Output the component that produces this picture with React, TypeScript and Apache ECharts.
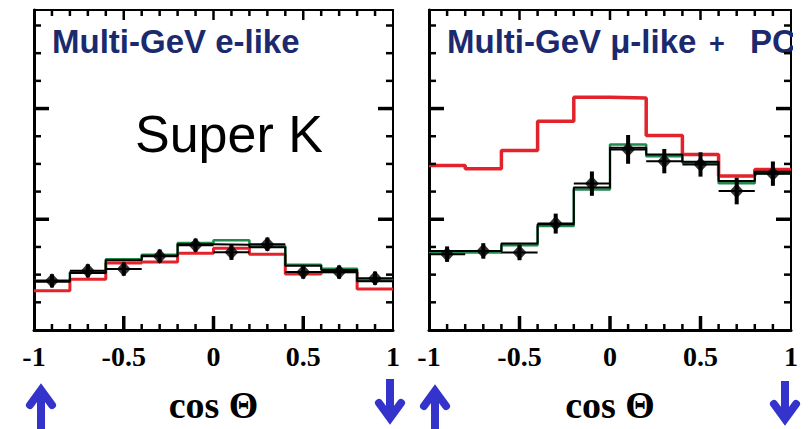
import React, { useEffect, useRef } from "react";
import * as echarts from "echarts";

// Histogram bin edges (cos Θ)
const binEdges = [-1, -0.8, -0.6, -0.4, -0.2, 0, 0.2, 0.4, 0.6, 0.8, 1];
const xTickLabels = ["-1", "-0.5", "0", "0.5", "1"];
const xMajorTicks = [-0.5, 0, 0.5];
const xMinorTicks = [-0.9, -0.8, -0.7, -0.6, -0.4, -0.3, -0.2, -0.1, 0.1, 0.2, 0.3, 0.4, 0.6, 0.7, 0.8, 0.9];
const yMajorTicks = [100, 200];
const yMinorTicks = [25, 50, 75, 125, 150, 175, 225, 250, 275];

// Multi-GeV e-like
const eData = [44.4, 53.4, 55, 66.7, 76.6, 70.3, 77.5, 52.3, 52.3, 46.8];
const eErr = [6, 6, 6, 6, 6, 7, 6, 6, 6, 6];
const eBlack = [43.5, 51.4, 63, 67, 77.5, 77, 74.8, 58, 54.3, 44];
const eGreen = [44.5, 52.4, 64, 68, 78.5, 81, 75.8, 59, 55.3, 45];
const eRed = [35.4, 45.9, 60.4, 61.3, 69.4, 73.9, 68.5, 50.5, 52.3, 37];

// Multi-GeV mu-like + PC
const muData = [68.5, 71.4, 70, 96.1, 132.2, 163.1, 152.5, 149.5, 125.5, 141.2];
const muErr = [7, 7, 7, 9, 11, 13, 11, 11, 12, 11];
const muBlack = [71.4, 71.4, 78.1, 95.5, 128.6, 164.6, 158.6, 152, 134.5, 143];
const muGreen = [70, 70, 76.5, 94, 127, 167.6, 157, 151, 132.5, 141.5];
const muRed = [148.6, 145.7, 162.2, 188.6, 210.2, 209.6, 175.7, 158.6, 139, 145];

const Y_MAX = 289;

const binCenters = binEdges.slice(0, -1).map((e, i) => (e + binEdges[i + 1]) / 2);
const halfWidths = binEdges.slice(0, -1).map((e, i) => (binEdges[i + 1] - e) / 2);

function stepData(vals: number[]) {
  return binEdges.map((e, i) => [e, vals[Math.min(i, vals.length - 1)]]);
}

const BLUE = "#3434cc";
const NAVY = "#1b2a6e";

function xAxes(gridIndex: number) {
  const common = {
    type: "value",
    gridIndex,
    min: -1,
    max: 1,
    interval: 0.5,
    splitLine: { show: false },
    axisTick: { show: false },
  };
  return [
    {
      ...common,
      position: "bottom",
      axisLine: { show: true, onZero: false, lineStyle: { color: "#000", width: 3 } },
      axisLabel: {
        show: true,
        margin: 12,
        color: "#000",
        fontFamily: "Liberation Serif",
        fontWeight: "bold",
        fontSize: 28,
        formatter: (v: number) => {
          const idx = [-1, -0.5, 0, 0.5, 1].findIndex((t) => Math.abs(t - v) < 1e-9);
          return idx >= 0 ? xTickLabels[idx] : "";
        },
      },
      name: "cos Θ",
      nameLocation: "middle",
      nameGap: 56,
      nameTextStyle: {
        color: "#000",
        fontFamily: "Liberation Serif",
        fontWeight: "bold",
        fontSize: 38,
      },
    },
    {
      ...common,
      position: "top",
      axisLine: { show: true, onZero: false, lineStyle: { color: "#000", width: 2 } },
      axisLabel: { show: false },
    },
  ];
}

function yAxes(gridIndex: number) {
  const common = {
    type: "value",
    gridIndex,
    min: 0,
    max: Y_MAX,
    interval: 100,
    splitLine: { show: false },
    axisLabel: { show: false },
    axisTick: { show: false },
  };
  return [
    { ...common, position: "left", axisLine: { show: true, onZero: false, lineStyle: { color: "#000", width: 3 } } },
    { ...common, position: "right", axisLine: { show: true, onZero: false, lineStyle: { color: "#000", width: 2 } } },
  ];
}

function panelSeries(
  xIdx: number,
  yIdx: number,
  data: number[],
  err: number[],
  black: number[],
  green: number[],
  red: number[],
  redWidth: number
) {
  const line = (vals: number[], color: string, width: number, z: number) => ({
    type: "line",
    xAxisIndex: xIdx,
    yAxisIndex: yIdx,
    data: stepData(vals),
    step: "end",
    symbol: "none",
    silent: true,
    z,
    lineStyle: { color, width },
  });
  return [
    line(red, "#e3232c", redWidth, 2),
    line(green, "#1f8a4c", 2.5, 3),
    line(black, "#000", 2, 4),
    {
      type: "custom",
      coordinateSystem: "cartesian2d",
      xAxisIndex: xIdx,
      yAxisIndex: yIdx,
      silent: true,
      z: 5,
      data: binCenters.map((c, i) => [c, data[i], err[i], halfWidths[i]]),
      encode: { x: 0, y: 1 },
      renderItem: (params: any, api: any) => {
        const x = api.value(0);
        const y = api.value(1);
        const e = api.value(2);
        const h = api.value(3);
        const top = api.coord([x, y + e]);
        const bot = api.coord([x, y - e]);
        const l = api.coord([x - h, y]);
        const r = api.coord([x + h, y]);
        return {
          type: "group",
          children: [
            { type: "line", shape: { x1: top[0], y1: top[1], x2: bot[0], y2: bot[1] }, style: { stroke: "#000", lineWidth: 4 } },
            { type: "line", shape: { x1: l[0], y1: l[1], x2: r[0], y2: r[1] }, style: { stroke: "#000", lineWidth: 2 } },
          ],
        };
      },
    },
    {
      type: "scatter",
      xAxisIndex: xIdx,
      yAxisIndex: yIdx,
      silent: true,
      z: 6,
      symbol: "diamond",
      symbolSize: [14, 15],
      itemStyle: { color: "#000" },
      data: binCenters.map((c, i) => [c, data[i]]),
    },
  ];
}

function upArrow(cx: number, vertexY: number, bottom: number) {
  return [
    { type: "line", z: 20, shape: { x1: cx, y1: vertexY, x2: cx, y2: bottom }, style: { stroke: BLUE, lineWidth: 8 } },
    {
      type: "polyline",
      z: 20,
      shape: { points: [[cx - 11, vertexY + 15], [cx, vertexY], [cx + 11, vertexY + 15]] },
      style: { stroke: BLUE, lineWidth: 8, lineCap: "round", lineJoin: "miter", fill: null },
    },
  ];
}

function downArrow(cx: number, top: number, vertexY: number) {
  return [
    { type: "line", z: 20, shape: { x1: cx, y1: top, x2: cx, y2: vertexY }, style: { stroke: BLUE, lineWidth: 8 } },
    {
      type: "polyline",
      z: 20,
      shape: { points: [[cx - 11, vertexY - 15], [cx, vertexY], [cx + 11, vertexY - 15]] },
      style: { stroke: BLUE, lineWidth: 8, lineCap: "round", lineJoin: "miter", fill: null },
    },
  ];
}

const titleFont = "bold 33px 'Liberation Sans', Arial, sans-serif";

const baseGraphics: any[] = [
  {
    type: "text",
    x: 52,
    y: 41,
    z: 10,
    style: { text: "Multi-GeV e-like", fill: NAVY, font: titleFont, verticalAlign: "middle", align: "left" },
  },
  {
    type: "text",
    x: 447,
    y: 41,
    z: 10,
    style: { text: "Multi-GeV μ-like", fill: NAVY, font: titleFont, verticalAlign: "middle", align: "left" },
  },
  {
    type: "text",
    x: 717,
    y: 44,
    z: 10,
    style: {
      text: "+",
      fill: NAVY,
      font: "bold 27px 'Liberation Sans', Arial, sans-serif",
      verticalAlign: "middle",
      align: "center",
    },
  },
  {
    type: "text",
    x: 750,
    y: 41,
    z: 10,
    style: { text: "PC", fill: NAVY, font: titleFont, verticalAlign: "middle", align: "left" },
  },
  { type: "rect", z: 11, shape: { x: 793, y: 14, width: 15, height: 60 }, style: { fill: "#fff" } },
  {
    type: "text",
    x: 135,
    y: 134,
    z: 10,
    style: {
      text: "Super K",
      fill: "#000",
      font: "52px 'Liberation Sans', Arial, sans-serif",
      verticalAlign: "middle",
      align: "left",
    },
  },
  ...upArrow(41, 390, 432),
  ...downArrow(390, 379, 418),
  ...upArrow(435, 391, 432),
  ...downArrow(785, 381, 419),
];

function tickLine(x1: number, y1: number, x2: number, y2: number, w: number) {
  return { type: "line", z: 100, shape: { x1, y1, x2, y2 }, style: { stroke: "#000", lineWidth: w } };
}

function panelTicks(chart: any, seriesIndex: number) {
  const out: any[] = [];
  const px = (p: number[]) => chart.convertToPixel({ seriesIndex }, p);
  const addX = (v: number, major: boolean) => {
    const b = px([v, 0]);
    const t = px([v, Y_MAX]);
    out.push(tickLine(b[0], b[1], b[0], b[1] - (major ? 14 : 6), major ? 3.5 : 2.5));
    out.push(tickLine(t[0], t[1], t[0], t[1] + (major ? 10 : 6), 2.5));
  };
  const addY = (v: number, major: boolean) => {
    const l = px([-1, v]);
    const r = px([1, v]);
    const len = major ? 15 : 7;
    const w = major ? 3.5 : 2.5;
    out.push(tickLine(l[0], l[1], l[0] + len, l[1], w));
    out.push(tickLine(r[0], r[1], r[0] - len, r[1], w));
  };
  xMajorTicks.forEach((v) => addX(v, true));
  xMinorTicks.forEach((v) => addX(v, false));
  yMajorTicks.forEach((v) => addY(v, true));
  yMinorTicks.forEach((v) => addY(v, false));
  return out;
}

export default function App() {
  const ref = useRef<HTMLDivElement>(null);
  useEffect(() => {
    if (!ref.current) return;
    const chart = echarts.init(ref.current, null, { renderer: "svg" });
    const option: any = {
      animation: false,
      backgroundColor: "#fff",
      grid: [
        { left: 34, top: 10, width: 359, height: 321 },
        { left: 429, top: 10, width: 362, height: 321 },
      ],
      xAxis: [...xAxes(0), ...xAxes(1)],
      yAxis: [...yAxes(0), ...yAxes(1)],
      series: [
        ...panelSeries(0, 0, eData, eErr, eBlack, eGreen, eRed, 3),
        ...panelSeries(2, 2, muData, muErr, muBlack, muGreen, muRed, 3.5),
      ],
      graphic: baseGraphics,
    };
    chart.setOption(option);
    const ticks = [...panelTicks(chart, 0), ...panelTicks(chart, 5)];
    chart.setOption({ graphic: [...baseGraphics, ...ticks] });
    return () => chart.dispose();
  }, []);
  return (
    <div
      ref={ref}
      style={{ position: "fixed", left: 0, top: 0, width: 808, height: 429, background: "#fff" }}
    />
  );
}
